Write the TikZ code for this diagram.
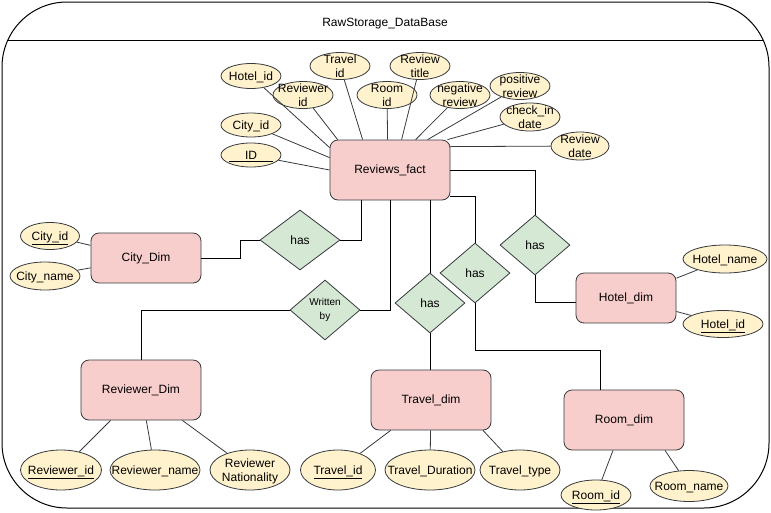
\documentclass[tikz,border=0pt]{standalone}
\usepackage{fontspec}
\setmainfont{Liberation Sans}
\usepackage{tikz}
\usetikzlibrary{shapes.geometric}
\definecolor{entfill}{HTML}{F8CECC}
\definecolor{attfill}{HTML}{FFF2CC}
\definecolor{relfill}{HTML}{D5E8D4}
\definecolor{edge}{HTML}{36393D}
\newcommand{\attrline}[1]{\makebox[0pt]{#1}}
\newcommand{\attrlines}[2]{\makebox[0pt]{\begin{tabular}{@{}c@{}}#1\\#2\end{tabular}}}

\begin{document}
\begin{tikzpicture}[x=1pt, y=-1pt,
  every node/.style = {font=\fontsize{12}{14}\selectfont},
  entity/.style = {shape=rectangle, rounded corners=8pt, draw=edge,
    line width=0.8pt, fill=entfill, minimum width=120pt, minimum height=60pt},
  attribute/.style = {shape=ellipse, draw=edge, fill=attfill,
    line width=0.8pt, inner sep=0pt, minimum width=60pt, minimum height=27pt,
    text height=8.6pt, text depth=0pt},
  relation/.style = {shape=diamond, draw=edge, fill=relfill, line width=0.8pt,
    inner sep=0pt, minimum width=70pt, minimum height=60pt, align=center},
  link/.style = {draw=edge, line width=0.8pt},
  conn/.style = {draw=black, line width=0.9pt}]
  \useasboundingbox (0,0) rectangle (771,512);
  \draw[line width=1pt, rounded corners=65pt] (2,2) rectangle (769,508);
  \draw[line width=1pt] (8,40) -- (763,40);
  \node (title) at (385,24) {RawStorage\_DataBase};

  \node[entity] (fact) at (390,170) {Reviews\_fact};
  \node[entity, minimum width=110pt, minimum height=50pt] (citydim) at (146,258) {City\_Dim};
  \node[entity] (revdim) at (141,390) {Reviewer\_Dim};
  \node[entity] (traveldim) at (431,400) {Travel\_dim};
  \node[entity, minimum width=100pt, minimum height=50pt] (hoteldim) at (626,298) {Hotel\_dim};
  \node[entity] (roomdim) at (624,420) {Room\_dim};

  \node[relation, minimum width=80pt] (hascity) at (300,240) {has};
  \node[relation, font=\fontsize{10}{14}\selectfont] (writtenby) at (325,310) {Written\\by};
  \node[relation] (hastravel) at (430,303) {has};
  \node[relation] (hasroom) at (475,273) {has};
  \node[relation] (hashotel) at (535,245) {has};

  \node[attribute, minimum height=25pt] (hotelid) at (251,76) {\attrline{Hotel\_id}};
  \node[attribute] (reviewerid) at (303,95) {\attrlines{Reviewer}{id}};
  \node[attribute] (travelid) at (340,66) {\attrlines{Travel}{id}};
  \node[attribute] (roomid) at (387,95) {\attrlines{Room}{id}};
  \node[attribute] (reviewtitle) at (420,66) {\attrlines{Review}{title}};
  \node[attribute] (negreview) at (460,95) {\attrlines{negative}{review}};
  \node[attribute] (posreview) at (520,86) {\attrlines{positive}{review}};
  \node[attribute, minimum height=28pt] (checkin) at (530,117) {\attrlines{check\_in}{date}};
  \node[attribute, minimum width=58pt, minimum height=28pt] (reviewdate) at (580,146) {\attrlines{Review}{date}};
  \node[attribute, minimum height=24pt] (cityid) at (251,125) {\attrline{City\_id}};
  \node[attribute, minimum height=24pt] (factid) at (251,155) {\attrline{\underline{\hspace{16pt}ID\hspace{16pt}}}};

  \node[attribute, minimum width=59pt] (citykey) at (50,236) {\attrline{\underline{City\_id}}};
  \node[attribute, minimum width=70pt, minimum height=28pt] (cityname) at (45,276) {\attrline{City\_name}};
  \node[attribute, minimum width=81pt, minimum height=40pt] (reviewerkey) at (61,470) {\attrline{\underline{Reviewer\_id}}};
  \node[attribute, minimum width=90pt, minimum height=40pt] (reviewername) at (155,470) {\attrline{Reviewer\_name}};
  \node[attribute, minimum width=80pt, minimum height=40pt] (nationality) at (250,470) {\attrlines{Reviewer}{Nationality}};
  \node[attribute, minimum width=75pt, minimum height=40pt] (travelkey) at (338,470) {\attrline{\underline{Travel\_id}}};
  \node[attribute, minimum width=90pt, minimum height=40pt] (duration) at (430,470) {\attrline{Travel\_Duration}};
  \node[attribute, minimum width=80pt, minimum height=40pt] (traveltype) at (520,470) {\attrline{Travel\_type}};
  \node[attribute, minimum width=84pt, minimum height=28pt] (hotelname) at (725,259) {\attrline{Hotel\_name}};
  \node[attribute, minimum width=80pt] (hotelkey) at (723,324) {\attrline{\underline{Hotel\_id}}};
  \node[attribute, minimum width=70pt, minimum height=30pt] (roomkey) at (596,495) {\attrline{\underline{Room\_id}}};
  \node[attribute, minimum width=78pt, minimum height=31pt] (roomname) at (689,486) {\attrline{Room\_name}};

  \draw[link] (hotelid) -- ([yshift=-8pt]fact.north west);
  \draw[link] (cityid) -- ([yshift=-18pt]fact.north west);
  \draw[link] (factid) -- (fact.west);
  \draw[link] (reviewerid) -- ([xshift=8pt]fact.north west);
  \draw[link] (travelid) -- ([xshift=33pt]fact.north west);
  \draw[link] (roomid) -- ([xshift=58pt]fact.north west);
  \draw[link] (reviewtitle) -- ([xshift=72pt]fact.north west);
  \draw[link] (negreview) -- ([xshift=86pt]fact.north west);
  \draw[link] (posreview) -- ([xshift=98pt]fact.north west);
  \draw[link] (checkin) -- ([xshift=-3pt]fact.north east);
  \draw[link] (reviewdate) -- ([yshift=-7pt]fact.north east);

  \draw[link] (citykey) -- (citydim);
  \draw[link] (cityname) -- (citydim);
  \draw[link] (reviewerkey) -- (revdim);
  \draw[link] (reviewername) -- (revdim);
  \draw[link] (nationality) -- (revdim);
  \draw[link] (travelkey) -- (traveldim);
  \draw[link] (duration) -- (traveldim);
  \draw[link] (traveltype) -- ([xshift=52pt]traveldim.south);
  \draw[link] (hotelname) -- (hoteldim);
  \draw[link] (hotelkey) -- (hoteldim);
  \draw[link] (roomkey) -- ([xshift=-11pt]roomdim.south);
  \draw[link] (roomname) -- ([xshift=41pt]roomdim.south);

  \draw[conn] (citydim.east) -- ++(39,0) |- (hascity.west);
  \draw[conn] (hascity.east) -| ([xshift=-29pt]fact.south);
  \draw[conn] (writtenby.east) -| (fact.south);
  \draw[conn] (writtenby.west) -| (revdim.north);
  \draw[conn] ([xshift=40pt]fact.south) -- (hastravel.north);
  \draw[conn] (hastravel.south) -- (traveldim.north -| hastravel.south);
  \draw[conn] ([yshift=4pt]fact.south east) -| (hasroom.north);
  \draw[conn] (hasroom.south) -- ++(0,47) -| ([xshift=-24pt]roomdim.north);
  \draw[conn] (fact.east) -| (hashotel.north);
  \draw[conn] (hashotel.south) |- ([yshift=-4pt]hoteldim.west);
\end{tikzpicture}
\end{document}
